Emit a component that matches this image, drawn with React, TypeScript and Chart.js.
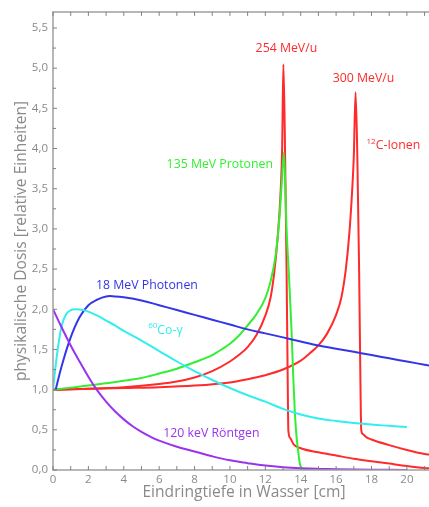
import React, { useEffect, useRef } from "react";
import { Chart, registerables } from "chart.js";

Chart.register(...registerables);

// ---- tick values ----
const xTickValues = [0, 2, 4, 6, 8, 10, 12, 14, 16, 18, 20];
const xMinorTicks = [1, 3, 5, 7, 9, 11, 13, 15, 17, 19, 21];
const yTickValues = [0, 0.5, 1, 1.5, 2, 2.5, 3, 3.5, 4, 4.5, 5, 5.5];
const yMinorTicks = [0.25, 0.75, 1.25, 1.75, 2.25, 2.75, 3.25, 3.75, 4.25, 4.75, 5.25];

// ---- series: 120 keV Röntgen ----
const roentgenX = [0, 0.5, 1, 1.5, 2, 2.5, 3, 3.5, 4, 4.5, 5, 5.5, 6, 7, 8, 9, 10, 11, 12, 13, 14, 15, 16, 18, 20];
const roentgenY = [2.0, 1.77, 1.55, 1.35, 1.16, 0.99, 0.85, 0.73, 0.63, 0.545, 0.475, 0.415, 0.365, 0.29, 0.23, 0.17, 0.12, 0.085, 0.055, 0.035, 0.022, 0.014, 0.009, 0.004, 0.0];

// ---- series: 60Co-gamma ----
const cobaltX = [0, 0.15, 0.3, 0.5, 0.75, 1, 1.3, 1.7, 2, 2.5, 3, 3.5, 4, 5, 6, 7, 8, 9, 10, 11, 12, 13, 14, 15, 16, 17, 18, 19, 20];
const cobaltY = [1.0, 1.3, 1.55, 1.8, 1.94, 1.99, 2.0, 1.99, 1.97, 1.92, 1.86, 1.8, 1.73, 1.61, 1.48, 1.35, 1.23, 1.12, 1.02, 0.93, 0.85, 0.76, 0.69, 0.64, 0.61, 0.585, 0.565, 0.55, 0.535];

// ---- series: 18 MeV Photonen ----
const photonX = [0.15, 0.5, 1, 1.5, 2, 2.5, 3, 3.5, 4, 5, 6, 7, 8, 9, 10, 11, 12, 13, 14, 15, 16, 17, 18, 19, 20, 21, 21.5];
const photonY = [1.0, 1.3, 1.65, 1.9, 2.05, 2.12, 2.16, 2.16, 2.15, 2.11, 2.05, 1.99, 1.93, 1.87, 1.81, 1.75, 1.70, 1.65, 1.60, 1.55, 1.51, 1.47, 1.43, 1.39, 1.35, 1.31, 1.29];

// ---- series: 135 MeV Protonen ----
const protonX = [0, 1, 2, 3, 4, 5, 6, 7, 8, 9, 9.6, 10, 10.5, 11, 11.5, 12, 12.3, 12.6, 12.8, 12.95, 13.05, 13.2, 13.35, 13.48, 13.57, 13.67, 13.77, 13.85, 13.95, 14.1, 14.3, 20];
const protonY = [1.0, 1.025, 1.05, 1.08, 1.11, 1.145, 1.2, 1.26, 1.34, 1.43, 1.51, 1.57, 1.67, 1.8, 1.94, 2.14, 2.35, 2.7, 3.15, 3.65, 3.95, 3.0, 2.35, 1.74, 1.2, 0.71, 0.4, 0.25, 0.08, 0.01, 0.0, 0.0];

// ---- series: 12C-Ionen 254 MeV/u ----
const carbon254X = [0, 2, 4, 6, 7, 8, 9, 10, 10.5, 11, 11.5, 12, 12.3, 12.5, 12.7, 12.85, 12.95, 13.02, 13.1, 13.2, 13.27, 13.3, 13.4, 13.6, 14, 15, 16, 17, 18, 19, 20, 21, 21.3];
const carbon254Y = [1.0, 1.01, 1.03, 1.07, 1.1, 1.15, 1.23, 1.35, 1.43, 1.53, 1.68, 1.92, 2.15, 2.45, 2.9, 3.4, 4.0, 5.05, 4.2, 2.5, 1.0, 0.5, 0.4, 0.32, 0.27, 0.22, 0.18, 0.14, 0.11, 0.08, 0.05, 0.025, 0.02];

// ---- series: 12C-Ionen 300 MeV/u ----
const carbon300X = [0, 2, 4, 6, 8, 10, 11, 12, 13, 14, 14.5, 15, 15.5, 16, 16.3, 16.55, 16.75, 16.9, 17.0, 17.1, 17.2, 17.3, 17.38, 17.42, 17.5, 17.7, 18, 19, 20, 21, 21.3];
const carbon300Y = [1.0, 1.01, 1.02, 1.03, 1.05, 1.09, 1.13, 1.18, 1.25, 1.36, 1.45, 1.55, 1.7, 1.93, 2.15, 2.5, 2.95, 3.45, 3.9, 4.7, 3.9, 2.5, 1.0, 0.5, 0.45, 0.41, 0.38, 0.31, 0.25, 0.2, 0.19];

// ---- labels ----
const labelTexts = ["254 MeV/u", "300 MeV/u", "C-Ionen", "135 MeV Protonen", "18 MeV Photonen", "Co-γ", "120 keV Röntgen"];
const labelSups = ["", "", "12", "", "", "60", ""];
const labelX = [11.45, 15.81, 17.72, 6.42, 2.43, 5.38, 6.23];
const labelY = [5.24, 4.87, 4.04, 3.8, 2.3, 1.74, 0.46];

const RED = "#ff2a2a";
const GREEN = "#33ee33";
const BLUE = "#3535e8";
const CYAN = "#33eeee";
const PURPLE = "#9933ee";
const labelColors = [RED, RED, RED, GREEN, BLUE, CYAN, PURPLE];

const GRAY = "#8a8a8a";
const FONT = "'Open Sans', 'DejaVu Sans', sans-serif";

function pts(xs: number[], ys: number[]) {
  return xs.map((x, i) => ({ x, y: ys[i] }));
}

const decorPlugin = {
  id: "decor",
  afterDraw(chart: any) {
    const ctx = chart.ctx as CanvasRenderingContext2D;
    const { left, right, top, bottom } = chart.chartArea;
    const xs = chart.scales.x;
    const ys = chart.scales.y;
    ctx.save();
    // frame
    ctx.strokeStyle = "#a0a0a0";
    ctx.lineWidth = 1.5;
    ctx.beginPath();
    ctx.moveTo(right + 2, top);
    ctx.lineTo(left, top);
    ctx.lineTo(left, bottom);
    ctx.lineTo(right + 2, bottom);
    ctx.stroke();
    // ticks
    ctx.lineWidth = 1;
    ctx.strokeStyle = "#808080";
    ctx.beginPath();
    [...xTickValues, ...xMinorTicks].forEach((v) => {
      const p = xs.getPixelForValue(v);
      ctx.moveTo(p, bottom);
      ctx.lineTo(p, bottom - 4);
      ctx.moveTo(p, top);
      ctx.lineTo(p, top + 4);
    });
    yTickValues.forEach((v) => {
      const p = ys.getPixelForValue(v);
      ctx.moveTo(left, p);
      ctx.lineTo(left + 4, p);
    });
    yMinorTicks.forEach((v) => {
      const p = ys.getPixelForValue(v);
      ctx.moveTo(left, p);
      ctx.lineTo(left + 3, p);
    });
    ctx.stroke();
    // axis titles
    ctx.fillStyle = GRAY;
    ctx.font = `15.6px ${FONT}`;
    ctx.textAlign = "center";
    ctx.textBaseline = "middle";
    ctx.fillText("Eindringtiefe in Wasser [cm]", 244, 493);
    ctx.save();
    ctx.translate(22, 241);
    ctx.rotate(-Math.PI / 2);
    ctx.fillText("physikalische Dosis [relative Einheiten]", 0, 0);
    ctx.restore();
    // curve labels
    ctx.textAlign = "left";
    labelTexts.forEach((t, i) => {
      let px = xs.getPixelForValue(labelX[i]);
      const py = ys.getPixelForValue(labelY[i]);
      ctx.fillStyle = labelColors[i];
      if (labelSups[i]) {
        ctx.font = `8px ${FONT}`;
        ctx.fillText(labelSups[i], px, py - 4);
        px += ctx.measureText(labelSups[i]).width;
      }
      ctx.font = `12.3px ${FONT}`;
      ctx.fillText(t, px, py);
    });
    ctx.restore();
  },
};

export default function App() {
  const ref = useRef<HTMLCanvasElement | null>(null);
  useEffect(() => {
    if (!ref.current) return;
    const ds = (label: string, xs: number[], ys: number[], color: string, smooth: boolean) => ({
      label,
      data: pts(xs, ys),
      borderColor: color,
      backgroundColor: color,
      borderWidth: 2,
      pointRadius: 0,
      fill: false,
      tension: smooth ? 0.4 : 0,
      cubicInterpolationMode: smooth ? ("default" as const) : ("monotone" as const),
    });
    const chart = new Chart(ref.current, {
      type: "line",
      data: {
        datasets: [
          ds("120 keV Röntgen", roentgenX, roentgenY, PURPLE, true),
          ds("60Co-γ", cobaltX, cobaltY, CYAN, true),
          ds("18 MeV Photonen", photonX, photonY, BLUE, true),
          ds("135 MeV Protonen", protonX, protonY, GREEN, false),
          ds("254 MeV/u", carbon254X, carbon254Y, RED, false),
          ds("300 MeV/u", carbon300X, carbon300Y, RED, false),
        ],
      },
      options: {
        animation: false,
        responsive: false,
        devicePixelRatio: 1,
        layout: { padding: { top: 11, right: 0, left: 0, bottom: 0 } },
        plugins: { legend: { display: false }, tooltip: { enabled: false } },
        scales: {
          x: {
            type: "linear",
            min: 0,
            max: 21.25,
            grid: { display: false, drawTicks: false, tickLength: 0 },
            border: { display: false },
            afterBuildTicks: (s: any) => {
              s.ticks = xTickValues.map((v) => ({ value: v }));
            },
            afterFit: (s: any) => {
              s.height = 37;
            },
            ticks: {
              color: GRAY,
              font: { family: FONT, size: 11.5 },
              padding: 3,
              maxRotation: 0,
              autoSkip: false,
              callback: (v: any) => String(v),
            },
          },
          y: {
            type: "linear",
            min: 0,
            max: 5.7,
            grid: { display: false, drawTicks: false, tickLength: 0 },
            border: { display: false },
            afterBuildTicks: (s: any) => {
              s.ticks = yTickValues.map((v) => ({ value: v }));
            },
            afterFit: (s: any) => {
              s.width = 53;
            },
            ticks: {
              color: GRAY,
              font: { family: FONT, size: 11.5 },
              padding: 5,
              autoSkip: false,
              callback: (v: any) => Number(v).toFixed(1).replace(".", ","),
            },
          },
        },
      },
      plugins: [decorPlugin],
    });
    return () => chart.destroy();
  }, []);
  return (
    <div style={{ position: "fixed", left: 0, top: 0, width: 429, height: 507, background: "#fff" }}>
      <canvas ref={ref} width={429} height={507} style={{ width: 429, height: 507, display: "block" }} />
    </div>
  );
}
